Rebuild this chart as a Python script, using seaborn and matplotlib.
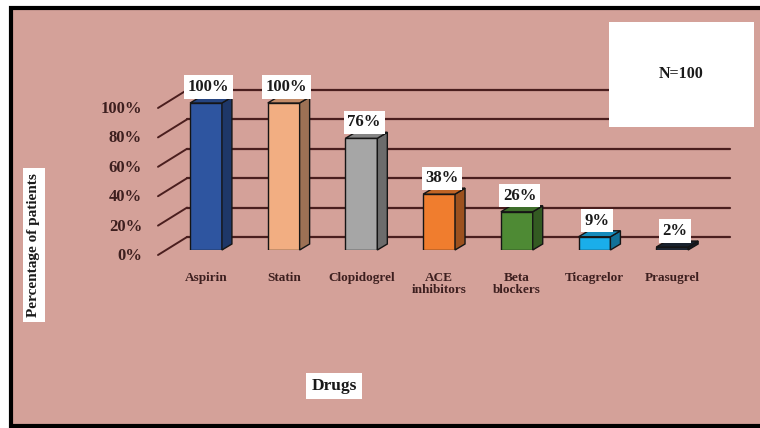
import numpy as np
import seaborn as sns
from matplotlib import pyplot as plt
from matplotlib.patches import Rectangle, Polygon
from matplotlib.lines import Line2D
from matplotlib.transforms import IdentityTransform
from matplotlib.colors import to_rgb

drugs = ["Aspirin", "Statin", "Clopidogrel", "ACE\ninhibitors", "Beta\nblockers", "Ticagrelor", "Prasugrel"]
percent = [100, 100, 76, 38, 26, 9, 2]
bar_colors = ["#2E55A0", "#F2AE82", "#A6A6A6", "#F07D2E", "#4E8A34", "#1AAEEA", "#1F2A3A"]
y_ticks = [0, 20, 40, 60, 80, 100]
sample_note = "N=100"

sns.set_style("white")
plt.rcParams["font.family"] = ["Liberation Serif", "DejaVu Serif"]
plt.rcParams["font.weight"] = "bold"

W, H = 760, 428
fig = plt.figure(figsize=(W / 100, H / 100), dpi=100)
fig.patch.set_facecolor("white")

bg = "#D4A199"
ink = "#3d1f1f"

# pink panel with black border (right edge runs off the picture)
fig.add_artist(Rectangle((11 / W, 2 / H), 770 / W, 418 / H, transform=fig.transFigure,
                         facecolor=bg, edgecolor="black", linewidth=3, zorder=-1))

ax = fig.add_axes([150 / W, (H - 250) / H, 580 / W, 147 / H])
ax.set_facecolor("none")

sns.barplot(x=drugs, y=percent, hue=drugs, palette=bar_colors, width=0.41,
            edgecolor="#151515", linewidth=1, legend=False, ax=ax, zorder=3,
            saturation=1)

ax.set_xlim(-56 / 77.7, 524 / 77.7)
ax.set_ylim(0, 100)
sns.despine(ax=ax, left=True, bottom=True)
ax.set_yticks([])
ax.tick_params(axis="x", length=0, pad=16, labelsize=9.5, labelcolor=ink)
for lab in ax.get_xticklabels():
    lab.set_fontweight("bold")
    lab.set_linespacing(1.0)

fig.canvas.draw()
ident = IdentityTransform()

# back wall grid lines and slanted tick lines
left_px = ax.transAxes.transform((0, 0))[0]
right_px = ax.transAxes.transform((1, 0))[0]
for v in y_ticks:
    yd = ax.transData.transform((0, v))[1]
    ax.add_line(Line2D([left_px + 37, right_px], [yd + 13, yd + 13], transform=ident,
                       color="#4a1e1e", linewidth=1.6, zorder=1, clip_on=False))
    ax.add_line(Line2D([left_px + 8, left_px + 37], [yd - 5, yd + 13], transform=ident,
                       color="#4a1e1e", linewidth=1.4, zorder=1, clip_on=False))
    ax.text(left_px - 8, yd - 6, f"{v}%", transform=ident, ha="right", va="center",
            fontsize=12, fontweight="bold", color=ink)

# 3D faces on each bar
dx, dy = 10, 6
for p, c in zip(ax.patches, bar_colors):
    x0, w, h = p.get_x(), p.get_width(), p.get_height()
    (lx, by) = ax.transData.transform((x0, 0))
    (rx, ty) = ax.transData.transform((x0 + w, h))
    rgb = np.array(to_rgb(c))
    side = [(rx, by), (rx, ty), (rx + dx, ty + dy), (rx + dx, by + dy)]
    top = [(lx, ty), (rx, ty), (rx + dx, ty + dy), (lx + dx, ty + dy)]
    ax.add_patch(Polygon(side, closed=True, transform=ident, facecolor=rgb * 0.65,
                         edgecolor="#151515", linewidth=1, zorder=3, clip_on=False))
    ax.add_patch(Polygon(top, closed=True, transform=ident, facecolor=rgb * 0.8,
                         edgecolor="#151515", linewidth=1, zorder=3, clip_on=False))

# value labels
for i, v in enumerate(percent):
    ax.annotate(f"{v}%", (i, v), xytext=(2, 11.5), textcoords="offset points",
                ha="center", va="center", fontsize=12, fontweight="bold", color="#1a1a1a",
                bbox=dict(boxstyle="square,pad=0.22", facecolor="white", edgecolor="none"),
                zorder=5, annotation_clip=False)

# axis titles
fig.text(34 / W, 1 - 245 / H, "Percentage of patients", rotation=90, ha="center", va="center",
         fontsize=11, fontweight="bold", color="#1a1a1a",
         bbox=dict(boxstyle="square,pad=0.3", facecolor="white", edgecolor="none"))
fig.text(334 / W, 1 - 386 / H, "Drugs", ha="center", va="center",
         fontsize=12.5, fontweight="bold", color="#1a1a1a",
         bbox=dict(boxstyle="square,pad=0.3", facecolor="white", edgecolor="none"))

# N box
fig.add_artist(Rectangle((609 / W, 1 - 127 / H), 145 / W, 105 / H, transform=fig.transFigure,
                         facecolor="white", edgecolor="none", zorder=6))
fig.text(681 / W, 1 - 74 / H, sample_note, ha="center", va="center", fontsize=11.5,
         fontweight="bold", color="#1a1a1a", zorder=7)

fig.savefig("out.png", dpi=100)
